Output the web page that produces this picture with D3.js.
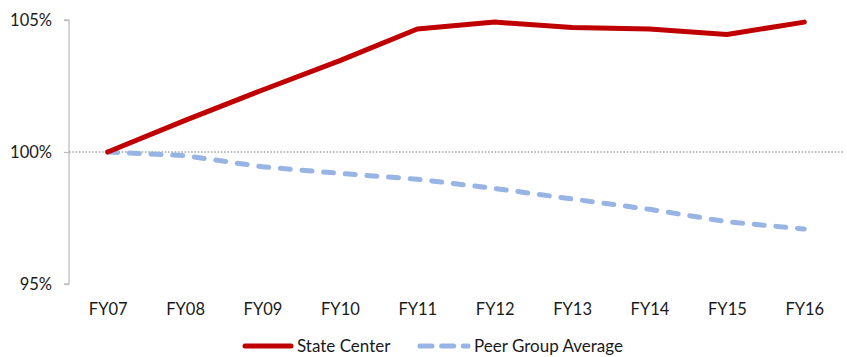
<!DOCTYPE html>
<html>
<head>
<meta charset="utf-8">
<script src="https://cdn.jsdelivr.net/npm/d3@7"></script>
<style>
  html, body { margin: 0; padding: 0; background: #fff; }
  svg { display: block; font-family: Lato, "Liberation Sans", sans-serif; }
</style>
</head>
<body>
<svg id="chart" width="847" height="357"></svg>
<script>
// Fiscal years along the x axis
const years = ["FY07", "FY08", "FY09", "FY10", "FY11", "FY12", "FY13", "FY14", "FY15", "FY16"];

// Index values (FY07 = 100%)
const stateCenter = [100, 101.2, 102.35, 103.46, 104.66, 104.92, 104.72, 104.66, 104.45, 104.92];
const peerAverage = [100, 99.86, 99.44, 99.19, 98.97, 98.62, 98.22, 97.83, 97.36, 97.08];

// Y axis ticks
const yTicks = [95, 100, 105];
const yTickLabels = ["95%", "100%", "105%"];

const seriesNames = ["State Center", "Peer Group Average"];

const svg = d3.select("#chart");

const plot = { left: 69, right: 843, top: 20, bottom: 284 };

const x = d3.scalePoint()
  .domain(years)
  .range([plot.left, plot.right])
  .padding(0.5);

const y = d3.scaleLinear()
  .domain([95, 105])
  .range([plot.bottom, plot.top]);

// Vertical value axis with outward ticks
const yAxis = d3.axisLeft(y)
  .tickValues(yTicks)
  .tickFormat((d, i) => yTickLabels[i])
  .tickSize(5)
  .tickPadding(12);

const gy = svg.append("g")
  .attr("transform", `translate(${plot.left},0)`)
  .call(yAxis);
gy.select(".domain").attr("stroke", "#bfbfbf").attr("stroke-width", 1.3)
  .attr("d", `M-5,${y(105)}H0V${y(95)}H-5`);
gy.selectAll(".tick line").attr("stroke", "#bfbfbf").attr("stroke-width", 1.3);
gy.selectAll(".tick text")
  .attr("fill", "#1a1a1a")
  .style("font-size", "16.5px")
  .style("font-family", "Lato, 'Liberation Sans', sans-serif");

// Category labels (no visible axis line)
const xAxis = d3.axisBottom(x).tickSize(0).tickPadding(0);
const gx = svg.append("g")
  .attr("transform", `translate(0,${plot.bottom + 19})`)
  .call(xAxis);
gx.select(".domain").remove();
gx.selectAll(".tick text")
  .attr("fill", "#1a1a1a")
  .style("font-size", "16.5px")
  .style("font-family", "Lato, 'Liberation Sans', sans-serif");

// Dotted reference line at 100%
svg.append("line")
  .attr("x1", plot.left)
  .attr("x2", plot.right)
  .attr("y1", y(100))
  .attr("y2", y(100))
  .attr("stroke", "#a6a6a6")
  .attr("stroke-width", 1.5)
  .attr("stroke-dasharray", "1.6 1.7");

const line = d3.line()
  .x((d, i) => x(years[i]))
  .y(d => y(d));

// Peer group average (dashed)
svg.append("path")
  .datum(peerAverage)
  .attr("d", line)
  .attr("fill", "none")
  .attr("stroke", "#97b4e4")
  .attr("stroke-width", 5)
  .attr("stroke-linecap", "round")
  .attr("stroke-linejoin", "round")
  .attr("stroke-dasharray", "10 11.7");

// State center (solid)
svg.append("path")
  .datum(stateCenter)
  .attr("d", line)
  .attr("fill", "none")
  .attr("stroke", "#c00000")
  .attr("stroke-width", 5)
  .attr("stroke-linecap", "round")
  .attr("stroke-linejoin", "round");

// Legend
const legendY = 346;
const legend = svg.append("g");
legend.append("line")
  .attr("x1", 245).attr("x2", 291)
  .attr("y1", legendY).attr("y2", legendY)
  .attr("stroke", "#c00000").attr("stroke-width", 5)
  .attr("stroke-linecap", "round");
legend.append("text")
  .attr("x", 297).attr("y", legendY)
  .attr("dy", "0.35em")
  .attr("fill", "#1a1a1a")
  .style("font-size", "17px")
  .text(seriesNames[0]);
legend.append("line")
  .attr("x1", 420).attr("x2", 468)
  .attr("y1", legendY).attr("y2", legendY)
  .attr("stroke", "#97b4e4").attr("stroke-width", 5)
  .attr("stroke-linecap", "round")
  .attr("stroke-dasharray", "12 9.7");
legend.append("text")
  .attr("x", 474).attr("y", legendY)
  .attr("dy", "0.35em")
  .attr("fill", "#1a1a1a")
  .style("font-size", "17px")
  .text(seriesNames[1]);
</script>
</body>
</html>
